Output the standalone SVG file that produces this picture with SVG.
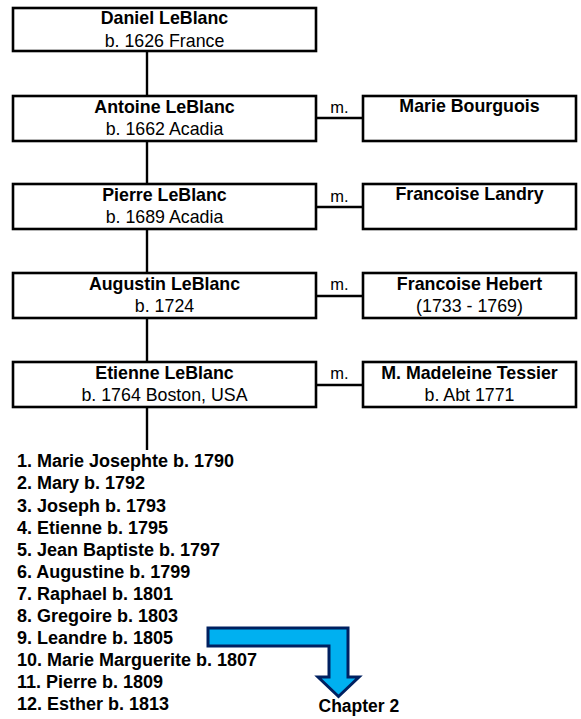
<svg xmlns="http://www.w3.org/2000/svg" width="581" height="719" viewBox="0 0 581 719">
<style>
.box{fill:#fff;stroke:#000;stroke-width:2.6}
.con{stroke:#000;stroke-width:2.4;fill:none}
.nm{font-family:"Liberation Sans",Arial,sans-serif;font-weight:bold;font-size:17.8px;text-anchor:middle;fill:#000}
.sb{font-family:"Liberation Sans",Arial,sans-serif;font-size:17.8px;text-anchor:middle;fill:#000}
.m{font-family:"Liberation Sans",Arial,sans-serif;font-size:16.5px;text-anchor:middle;fill:#000}
.ls{font-family:"Liberation Sans",Arial,sans-serif;font-weight:bold;font-size:18px;fill:#000}
.ch{font-family:"Liberation Sans",Arial,sans-serif;font-weight:bold;font-size:17.5px;fill:#000}
</style>
<rect width="581" height="719" fill="#fff"/>
<g id="connectors">
<line class="con" x1="147" y1="51" x2="147" y2="96"/>
<line class="con" x1="147" y1="141" x2="147" y2="184"/>
<line class="con" x1="147" y1="229" x2="147" y2="273"/>
<line class="con" x1="147" y1="318" x2="147" y2="362"/>
<line class="con" x1="147" y1="407" x2="147" y2="450"/>
<line class="con" x1="316" y1="118" x2="363" y2="118"/>
<line class="con" x1="316" y1="207" x2="363" y2="207"/>
<line class="con" x1="316" y1="296" x2="363" y2="296"/>
<line class="con" x1="316" y1="385" x2="363" y2="385"/>
<text class="m" x="339.5" y="113">m.</text>
<text class="m" x="339.5" y="202">m.</text>
<text class="m" x="339.5" y="290">m.</text>
<text class="m" x="339.5" y="379">m.</text>
</g>
<g id="daniel">
<rect class="box" x="13" y="8" width="303" height="43"/>
<text class="nm" x="164.5" y="24">Daniel LeBlanc</text>
<text class="sb" x="164.5" y="47">b. 1626 France</text>
</g>
<g id="antoine">
<rect class="box" x="13" y="96" width="303" height="45"/>
<text class="nm" x="164.5" y="113">Antoine LeBlanc</text>
<text class="sb" x="164.5" y="135">b. 1662 Acadia</text>
</g>
<g id="marie-bourguois">
<rect class="box" x="363" y="96" width="213" height="45"/>
<text class="nm" x="469.5" y="112">Marie Bourguois</text>
</g>
<g id="pierre">
<rect class="box" x="13" y="184" width="303" height="45"/>
<text class="nm" x="164.5" y="201">Pierre LeBlanc</text>
<text class="sb" x="164.5" y="223">b. 1689 Acadia</text>
</g>
<g id="francoise-landry">
<rect class="box" x="363" y="184" width="213" height="45"/>
<text class="nm" x="469.5" y="200">Francoise Landry</text>
</g>
<g id="augustin">
<rect class="box" x="13" y="273" width="303" height="45"/>
<text class="nm" x="164.5" y="290">Augustin LeBlanc</text>
<text class="sb" x="164.5" y="312">b. 1724</text>
</g>
<g id="francoise-hebert">
<rect class="box" x="363" y="273" width="213" height="45"/>
<text class="nm" x="469.5" y="290">Francoise Hebert</text>
<text class="sb" x="469.5" y="312">(1733 - 1769)</text>
</g>
<g id="etienne">
<rect class="box" x="13" y="362" width="303" height="45"/>
<text class="nm" x="164.5" y="379">Etienne LeBlanc</text>
<text class="sb" x="164.5" y="401">b. 1764 Boston, USA</text>
</g>
<g id="madeleine-tessier">
<rect class="box" x="363" y="362" width="213" height="45"/>
<text class="nm" x="469.5" y="379">M. Madeleine Tessier</text>
<text class="sb" x="469.5" y="401">b. Abt 1771</text>
</g>
<g id="children">
<text class="ls" x="17" y="467.3">1. Marie Josephte b. 1790</text>
<text class="ls" x="17" y="489.4">2. Mary b. 1792</text>
<text class="ls" x="17" y="511.5">3. Joseph b. 1793</text>
<text class="ls" x="17" y="533.6">4. Etienne b. 1795</text>
<text class="ls" x="17" y="555.7">5. Jean Baptiste b. 1797</text>
<text class="ls" x="17" y="577.8">6. Augustine b. 1799</text>
<text class="ls" x="17" y="599.9">7. Raphael b. 1801</text>
<text class="ls" x="17" y="622">8. Gregoire b. 1803</text>
<text class="ls" x="17" y="644.1">9. Leandre b. 1805</text>
<text class="ls" x="17" y="666.2">10. Marie Marguerite b. 1807</text>
<text class="ls" x="17" y="688.3">11. Pierre b. 1809</text>
<text class="ls" x="17" y="710.4">12. Esther b. 1813</text>
</g>
<g id="arrow">
<path d="M208,628 H348 V677 H359 L338.5,696.5 L318,677 H329 V646 H208 Z" fill="#00B0F0" stroke="#002060" stroke-width="3" stroke-linejoin="miter"/>
<text class="ch" x="318.5" y="711.5">Chapter 2</text>
</g>
</svg>
